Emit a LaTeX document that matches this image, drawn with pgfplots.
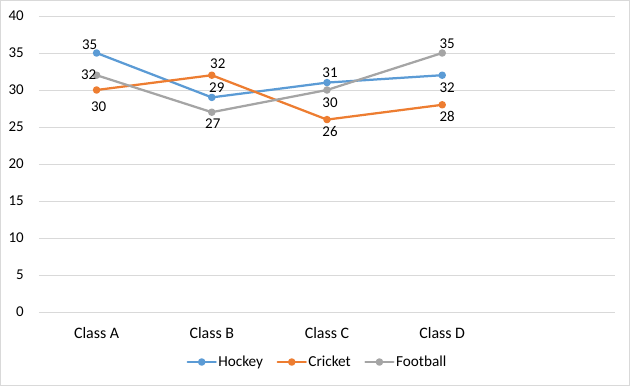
\documentclass[border=0pt]{standalone}
\usepackage{pgfplots}
\pgfplotsset{compat=1.18}
\usepackage{pgfplotstable}
\usepackage{fontspec}
\setmainfont{Carlito}
\definecolor{hockey}{HTML}{5B9BD5}
\definecolor{cricket}{HTML}{ED7D31}
\definecolor{football}{HTML}{A5A5A5}
\definecolor{gridc}{HTML}{D9D9D9}

\pgfplotstableread{
x y dx dy
0 35 -7 8
1 29 5 10
2 31 3 10
3 32 5 -13
}\hockeytab
\pgfplotstableread{
x y dx dy
0 30 2 -17
1 32 6 11
2 26 3 -12
3 28 5 -12
}\crickettab
\pgfplotstableread{
x y dx dy
0 32 -8 0
1 27 1 -11
2 30 3 -13
3 35 5 9
}\footballtab

\pgfplotsset{
  serie/.style={#1, line width=2.25bp, line join=round, line cap=round,
    mark=*, mark size=2.6bp, mark options={solid, fill=#1, draw=#1},
    nodes near coords, point meta=explicit,
    visualization depends on={\thisrow{dx} \as \dx},
    visualization depends on={\thisrow{dy} \as \dy},
    nodes near coords style={anchor=center, inner sep=0pt, xshift=\dx bp, yshift=\dy bp,
      font=\fontsize{15}{17}\selectfont, text=black}}
}

\begin{document}
\begin{tikzpicture}
\begin{axis}[name=ax, at={(0,0)}, anchor=south west,
  scale only axis, width=576bp, height=296bp,
  xmin=-0.5, xmax=4.5, ymin=0, ymax=40,
  ytick={0,5,...,40}, xtick={0,1,2,3},
  xticklabels={Class A,Class B,Class C,Class D},
  axis line style={draw=none}, ymajorgrids,
  major grid style={gridc, line width=0.75bp},
  tick style={draw=none},
  /pgf/number format/assume math mode=true,
  ticklabel style={font=\fontsize{15}{17}\selectfont, text=black},
  yticklabel style={anchor=east, inner sep=0pt, xshift=-15bp},
  xticklabel style={anchor=center, inner sep=0pt, yshift=-21bp, font=\fontsize{16}{18}\selectfont},
  clip=false,
  legend columns=3,
  legend style={at={(0.483,-0.169)}, anchor=center, draw=none,
    font=\fontsize{15.3}{17}\selectfont, nodes={inner sep=1.5bp},
    /tikz/every even column/.append style={column sep=12bp}},
  legend image code/.code={\draw[mark repeat=2,mark phase=2,#1] plot coordinates {(0bp,0bp) (14bp,0bp) (28bp,0bp)};},
]
\addplot[serie=hockey] table[x=x, y=y, meta=y] {\hockeytab};
\addlegendentry{Hockey}
\addplot[serie=cricket] table[x=x, y=y, meta=y] {\crickettab};
\addlegendentry{Cricket}
\addplot[serie=football] table[x=x, y=y, meta=y] {\footballtab};
\addlegendentry{Football}
\end{axis}
\draw[gridc, line width=1bp] ([xshift=-38.5bp,yshift=-73.5bp]ax.south west) rectangle ([xshift=14.5bp,yshift=15.5bp]ax.north east);
\end{tikzpicture}
\end{document}
